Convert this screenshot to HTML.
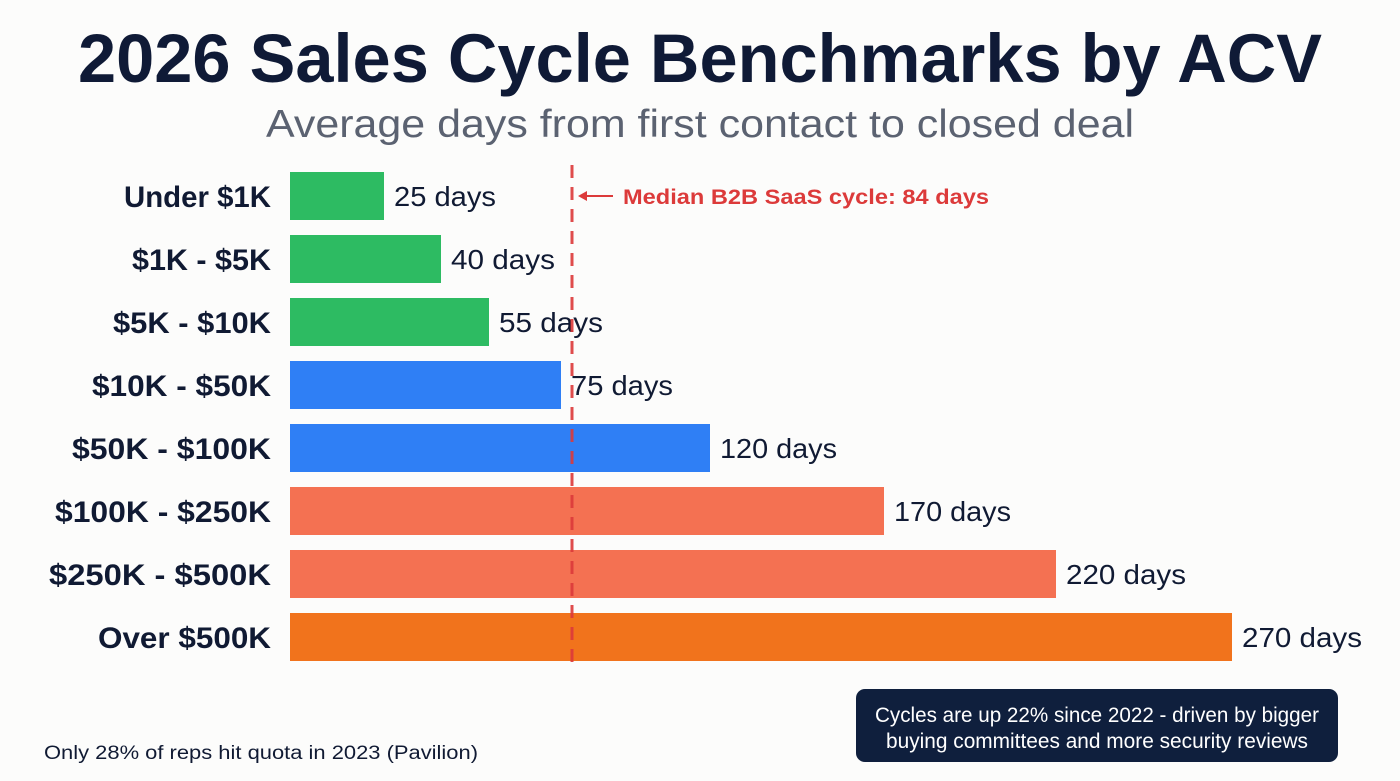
<!DOCTYPE html>
<html><head><meta charset="utf-8"><style>
html,body{margin:0;padding:0;background:#fcfcfb;}
svg{display:block;font-family:"Liberation Sans",sans-serif;}
</style></head><body>
<svg width="1400" height="781" viewBox="0 0 1400 781" xmlns="http://www.w3.org/2000/svg">
<rect width="1400" height="781" fill="#fcfcfb"/>
<text x="700" y="82" text-anchor="middle" font-size="69" font-weight="bold" fill="#0f1a36" textLength="1244" lengthAdjust="spacingAndGlyphs">2026 Sales Cycle Benchmarks by ACV</text>
<text x="700" y="137" text-anchor="middle" font-size="39" fill="#5b6271" textLength="868" lengthAdjust="spacingAndGlyphs">Average days from first contact to closed deal</text>
<g font-size="30" font-weight="bold" fill="#101a33" text-anchor="end" lengthAdjust="spacingAndGlyphs">
<text x="271" y="207" textLength="147" lengthAdjust="spacingAndGlyphs">Under $1K</text>
<text x="271" y="270" textLength="139" lengthAdjust="spacingAndGlyphs">$1K - $5K</text>
<text x="271" y="333" textLength="158" lengthAdjust="spacingAndGlyphs">$5K - $10K</text>
<text x="271" y="396" textLength="179" lengthAdjust="spacingAndGlyphs">$10K - $50K</text>
<text x="271" y="459" textLength="199" lengthAdjust="spacingAndGlyphs">$50K - $100K</text>
<text x="271" y="522" textLength="216" lengthAdjust="spacingAndGlyphs">$100K - $250K</text>
<text x="271" y="585" textLength="222" lengthAdjust="spacingAndGlyphs">$250K - $500K</text>
<text x="271" y="648" textLength="173" lengthAdjust="spacingAndGlyphs">Over $500K</text>
</g>
<rect x="290" y="172" width="94" height="48" fill="#2dbb62"/>
<rect x="290" y="235" width="151" height="48" fill="#2dbb62"/>
<rect x="290" y="298" width="199" height="48" fill="#2dbb62"/>
<rect x="290" y="361" width="271" height="48" fill="#2f7ff5"/>
<rect x="290" y="424" width="420" height="48" fill="#2f7ff5"/>
<rect x="290" y="487" width="594" height="48" fill="#f47152"/>
<rect x="290" y="550" width="766" height="48" fill="#f47152"/>
<rect x="290" y="613" width="942" height="48" fill="#f1731c"/>
<g font-size="28" fill="#101a33">
<text x="394" y="206" textLength="102" lengthAdjust="spacingAndGlyphs">25 days</text>
<text x="451" y="269" textLength="104" lengthAdjust="spacingAndGlyphs">40 days</text>
<text x="499" y="332" textLength="104" lengthAdjust="spacingAndGlyphs">55 days</text>
<text x="571" y="395" textLength="102" lengthAdjust="spacingAndGlyphs">75 days</text>
<text x="720" y="458" textLength="117" lengthAdjust="spacingAndGlyphs">120 days</text>
<text x="894" y="521" textLength="117" lengthAdjust="spacingAndGlyphs">170 days</text>
<text x="1066" y="584" textLength="120" lengthAdjust="spacingAndGlyphs">220 days</text>
<text x="1242" y="647" textLength="120" lengthAdjust="spacingAndGlyphs">270 days</text>
</g>
<line x1="572" y1="165" x2="572" y2="670" stroke="#dc3a3a" stroke-width="3" stroke-dasharray="13,9" opacity="0.9"/>
<line x1="580" y1="196" x2="613" y2="196" stroke="#dc3a3a" stroke-width="2"/>
<path d="M578 196 L587 191 L587 201 Z" fill="#dc3a3a"/>
<text x="623" y="204" font-size="21" font-weight="bold" fill="#dc3a3a" textLength="366" lengthAdjust="spacingAndGlyphs">Median B2B SaaS cycle: 84 days</text>
<text x="44" y="759" font-size="19" fill="#101a33" textLength="434" lengthAdjust="spacingAndGlyphs">Only 28% of reps hit quota in 2023 (Pavilion)</text>
<rect x="856" y="689" width="482" height="73" rx="9" fill="#0f1f3d"/>
<text x="1097" y="722" text-anchor="middle" font-size="21" fill="#ffffff" textLength="444" lengthAdjust="spacingAndGlyphs">Cycles are up 22% since 2022 - driven by bigger</text>
<text x="1097" y="748" text-anchor="middle" font-size="21" fill="#ffffff" textLength="422" lengthAdjust="spacingAndGlyphs">buying committees and more security reviews</text>
</svg>
</body></html>
